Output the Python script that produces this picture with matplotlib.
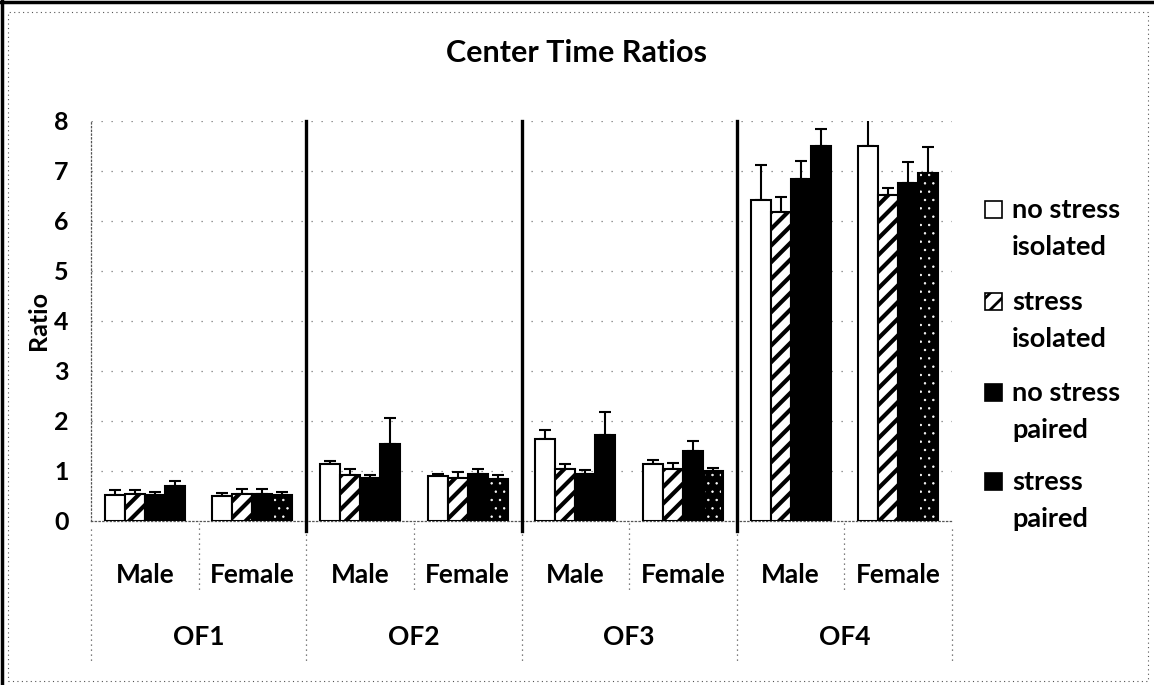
import numpy as np
import matplotlib
matplotlib.use("Agg")
import matplotlib.pyplot as plt
from matplotlib.patches import Rectangle
from matplotlib.lines import Line2D

plt.rcParams['font.family'] = ['Lato', 'DejaVu Sans']
plt.rcParams['font.weight'] = 'bold'
plt.rcParams['hatch.linewidth'] = 3.0

tests = ["OF1", "OF2", "OF3", "OF4"]
sexes = ["Male", "Female"]
series = ["no stress\nisolated", "stress\nisolated", "no stress\npaired", "stress\npaired"]

# means, order: OF1 M, OF1 F, OF2 M, OF2 F, OF3 M, OF3 F, OF4 M, OF4 F
ns_iso = [0.53, 0.50, 1.15, 0.90, 1.65, 1.14, 6.42, 7.50]
s_iso = [0.55, 0.55, 0.93, 0.87, 1.05, 1.05, 6.19, 6.52]
ns_pair = [0.52, 0.55, 0.87, 0.94, 0.95, 1.41, 6.84, 6.77]
s_pair = [0.71, 0.53, 1.55, 0.84, 1.72, 1.00, 7.50, 6.97]

# upper error (SEM)
ns_iso_err = [0.09, 0.07, 0.06, 0.05, 0.18, 0.08, 0.70, 0.55]
s_iso_err = [0.07, 0.10, 0.11, 0.12, 0.09, 0.12, 0.29, 0.14]
ns_pair_err = [0.07, 0.10, 0.06, 0.10, 0.08, 0.19, 0.36, 0.42]
s_pair_err = [0.09, 0.06, 0.52, 0.09, 0.47, 0.07, 0.35, 0.51]

means = [ns_iso, s_iso, ns_pair, s_pair]
errs = [ns_iso_err, s_iso_err, ns_pair_err, s_pair_err]
faces = ["white", "white", "black", "black"]
hatches = [None, "//", None, None]

W, H = 1154, 685
fig = plt.figure(figsize=(W / 100, H / 100), dpi=100)
ax = fig.add_axes([91 / W, 1 - 521 / H, (952 - 91) / W, 400 / H])

x = np.arange(len(tests) * len(sexes))
w = 0.186
for i in range(4):
    pos = x + (i - 1.5) * w
    ax.bar(pos, means[i], w, color=faces[i], edgecolor="black", linewidth=1.5,
           hatch=hatches[i], zorder=3)
    ax.errorbar(pos, means[i], yerr=[np.zeros(len(x)), errs[i]], fmt="none",
                ecolor="black", elinewidth=1.5, capsize=4, capthick=1.5, zorder=2)

# speckled look on the female "stress paired" bars
plt.rcParams['hatch.linewidth'] = 0.5
ax.bar(x[1::2] + 1.5 * w, s_pair[1::2], w * 0.8, color="none", edgecolor="white",
       linewidth=0, hatch="..", zorder=4)

ax.set_xlim(-0.5, len(x) - 0.5)
ax.set_ylim(0, 8)
ax.set_yticks(range(9))
ax.tick_params(axis="y", length=0, pad=16, labelsize=18)
ax.set_xticks([])
ax.set_ylabel("Ratio", fontsize=18, fontweight="bold", labelpad=3)
fig.text(577 / W, 1 - 53 / H, "Center Time Ratios", fontsize=22,
         fontweight="bold", ha="center", va="center")

for yy in range(1, 9):
    ax.axhline(yy, color="#777777", lw=0.9, ls=(0, (1, 7)), zorder=1)

for s in ["top", "right"]:
    ax.spines[s].set_visible(False)
for s in ["left", "bottom"]:
    ax.spines[s].set_linestyle((0, (1, 2)))
    ax.spines[s].set_color("#555555")
    ax.spines[s].set_linewidth(0.9)

# solid separators between tests
for b in [1.5, 3.5, 5.5]:
    ax.plot([b, b], [-0.2, 8], color="black", lw=2.4, clip_on=False, zorder=5)

# category axis labels
tr = ax.get_xaxis_transform()
for k, xi in enumerate(x):
    ax.text(xi, -0.135, sexes[k % 2], transform=tr, ha="center", va="center",
            fontsize=19, fontweight="bold")
for g, t in enumerate(tests):
    ax.text(2 * g + 0.5, -0.29, t, transform=tr, ha="center", va="center",
            fontsize=19, fontweight="bold")
for b in [0.5, 2.5, 4.5, 6.5]:
    ax.plot([b, b], [-0.005, -0.18], color="#555555", lw=0.9, ls=(0, (1, 3)),
            transform=tr, clip_on=False)
for b in [-0.5, 1.5, 3.5, 5.5, 7.5]:
    ax.plot([b, b], [-0.02, -0.35], color="#555555", lw=0.9, ls=(0, (1, 3)),
            transform=tr, clip_on=False)

# legend
def fx(px):
    return px / W


def fy(py):
    return 1 - py / H


plt.rcParams['hatch.linewidth'] = 2.0
first_lines = [210, 302, 393, 482]
for i, lab in enumerate(series):
    yc = first_lines[i]
    fig.add_artist(Rectangle((fx(985), fy(yc + 8)), 17 / W, 17 / H,
                             facecolor=faces[i], edgecolor="black", lw=1.2,
                             hatch=hatches[i], transform=fig.transFigure))
    l1, l2 = lab.split("\n")
    fig.text(fx(1012), fy(yc), l1, ha="left", va="center", fontsize=19.5,
             fontweight="bold")
    fig.text(fx(1012), fy(yc + 37), l2, ha="left", va="center", fontsize=19.5,
             fontweight="bold")

# frame of the scanned chart
fig.add_artist(Rectangle((fx(8), fy(681)), 1140 / W, 669 / H, fill=False,
                         edgecolor="#555555", lw=0.8, ls=(0, (1, 3)),
                         transform=fig.transFigure))
fig.add_artist(Line2D([0, 1], [fy(1.5), fy(1.5)], color="black", lw=2.5,
                      transform=fig.transFigure))
fig.add_artist(Line2D([fx(1.5), fx(1.5)], [0, 1], color="black", lw=2.5,
                      transform=fig.transFigure))

fig.savefig("out.png", dpi=100)
